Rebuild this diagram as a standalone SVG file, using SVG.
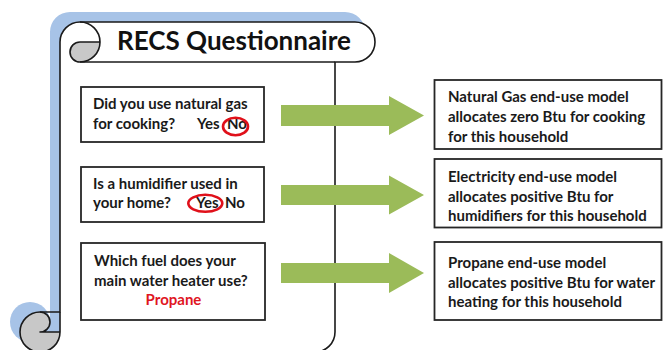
<svg xmlns="http://www.w3.org/2000/svg" width="663" height="350" viewBox="0 0 663 350">
  <style>
    .ol { fill: none; stroke: #1a1a1a; stroke-width: 1.6; stroke-linejoin: round; }
    .box { fill: #ffffff; stroke: #262626; stroke-width: 1.8; }
    .t { font-family: Lato, "Open Sans", "Liberation Sans", sans-serif; font-weight: 700; font-size: 15px; fill: #1a1a1a; }
    .title { font-family: Lato, "Open Sans", "Liberation Sans", sans-serif; font-weight: 700; font-size: 26px; fill: #111111; }
    .red { fill: #e0161f; }
    .ring { fill: none; stroke: #e0101a; stroke-width: 2.6; }
    .arrow { fill: #9bbb59; }
  </style>
  <defs>
    <path id="scrollBody" d="M40,352 A20,20 0 0 0 60,332 L60,42 A20,20 0 0 1 80,22 L355,22 A20,20 0 0 1 355,62 L335,62 L335,332 A20,20 0 0 1 315,352 Z"/>
  </defs>
  <rect width="663" height="350" fill="#ffffff"/>

  <g id="scroll">
    <g transform="translate(-10,-10)" fill="#a7c3e7">
      <use href="#scrollBody"/>
      <circle cx="40" cy="332" r="20"/>
    </g>
    <use href="#scrollBody" fill="#ffffff"/>
    <path d="M100,42 A20,20 0 0 1 80,62 A10,10 0 0 1 80,42 Z" fill="#c8c8c8"/>
    <path d="M60,332 A20,20 0 1 1 40,312 A10,10 0 0 1 40,332 Z" fill="#c8c8c8"/>
    <path class="ol" d="M60,312 L60,42 A20,20 0 0 1 80,22 L355,22 A20,20 0 0 1 355,62 L335,62 L335,332 A20,20 0 0 1 315,352 L40,352 A20,20 0 0 1 40,312 Z"/>
    <path class="ol" d="M80,22 A20,20 0 0 1 80,62 A10,10 0 0 1 80,42 L100,42"/>
    <path class="ol" d="M335,62 L80,62"/>
    <path class="ol" d="M40,312 A10,10 0 0 1 40,332 L60,332"/>
    <path class="ol" d="M40,352 A20,20 0 0 0 60,332 L60,312"/>
    <text class="title" x="234" y="50" text-anchor="middle">RECS Questionnaire</text>
  </g>

  <g id="q1">
    <rect class="box" x="81" y="87" width="183" height="55"/>
    <text class="t" x="93" y="109">Did you use natural gas</text>
    <text class="t" x="93" y="129">for cooking?</text>
    <text class="t" x="197" y="129">Yes</text>
    <text class="t" x="227" y="129">No</text>
    <ellipse class="ring" cx="235.5" cy="126.5" rx="12.5" ry="8.7"/>
  </g>

  <g id="q2">
    <rect class="box" x="81" y="167" width="183" height="55"/>
    <text class="t" x="93" y="189">Is a humidifier used in</text>
    <text class="t" x="93" y="208">your home?</text>
    <text class="t" x="196" y="208">Yes</text>
    <text class="t" x="225" y="208">No</text>
    <ellipse class="ring" cx="205.3" cy="203.3" rx="17" ry="8.5"/>
  </g>

  <g id="q3">
    <rect class="box" x="81" y="243" width="184" height="77"/>
    <text class="t" x="94" y="266">Which fuel does your</text>
    <text class="t" x="94" y="286">main water heater use?</text>
    <text class="t red" x="173.5" y="305" text-anchor="middle">Propane</text>
  </g>

  <g id="connectors">
    <path class="arrow" d="M281,105 L389,105 L389,96 L424,115.5 L389,135 L389,126 L281,126 Z"/>
    <path class="arrow" d="M281,185 L389,185 L389,175.5 L424,195 L389,214.5 L389,205 L281,205 Z"/>
    <path class="arrow" d="M281,263 L389,263 L389,253 L424,273 L389,293 L389,283 L281,283 Z"/>
  </g>

  <g id="r1">
    <rect class="box" x="434.5" y="80" width="227" height="69"/>
    <text class="t" x="448" y="102">Natural Gas end-use model</text>
    <text class="t" x="448" y="122">allocates zero Btu for cooking</text>
    <text class="t" x="448" y="142">for this household</text>
  </g>

  <g id="r2">
    <rect class="box" x="434.5" y="159" width="227" height="68.5"/>
    <text class="t" x="448" y="182">Electricity end-use model</text>
    <text class="t" x="448" y="202">allocates positive Btu for</text>
    <text class="t" x="448" y="221">humidifiers for this household</text>
  </g>

  <g id="r3">
    <rect class="box" x="434.5" y="242" width="227" height="78"/>
    <text class="t" x="448" y="268">Propane end-use model</text>
    <text class="t" x="448" y="288">allocates positive Btu for water</text>
    <text class="t" x="448" y="307">heating for this household</text>
  </g>
</svg>
